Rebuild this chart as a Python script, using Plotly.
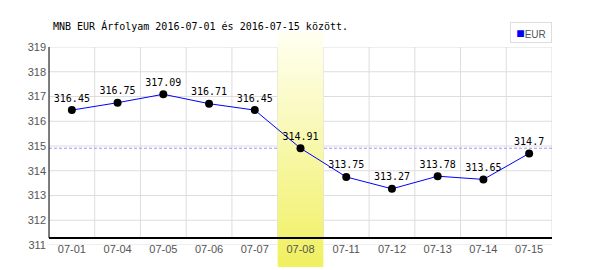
import plotly.graph_objects as go

dates = ['07-01', '07-04', '07-05', '07-06', '07-07', '07-08',
         '07-11', '07-12', '07-13', '07-14', '07-15']
values = [316.45, 316.75, 317.09, 316.71, 316.45, 314.91,
          313.75, 313.27, 313.78, 313.65, 314.7]
y_ticks = [311, 312, 313, 314, 315, 316, 317, 318, 319]
highlight = 5
title = 'MNB EUR Árfolyam 2016-07-01 és 2016-07-15 között.'
series_name = 'EUR'

W, H = 600, 270
L, R, T, B = 49, 48, 47, 25
plot_h = H - T - B
n = len(dates)
xs = list(range(n))

mono = 'DejaVu Sans Mono'
sans = 'Liberation Sans'

fig = go.Figure()

shapes = []
grid_col = '#dddddd'
axis_bottom = 7 / plot_h  # black axis line sits 7px above the 311 line
# horizontal grid lines
for v in y_ticks:
    shapes.append(dict(type='line', xref='paper', yref='y', x0=0, x1=1, y0=v, y1=v,
                       line=dict(color=grid_col, width=1), layer='below'))
# vertical grid lines at category boundaries
for i in range(n + 1):
    shapes.append(dict(type='line', xref='x', yref='paper', x0=i - 0.5, x1=i - 0.5,
                       y0=axis_bottom, y1=1, line=dict(color=grid_col, width=1), layer='below'))
# reference dashed line at highlighted value
shapes.append(dict(type='line', xref='paper', yref='y', x0=0, x1=1,
                   y0=values[highlight], y1=values[highlight],
                   line=dict(color='#9999ff', width=1, dash='3px,2px'), layer='below'))
# highlight band with vertical gradient
top_px, bot_px = 33, 267
strips = 47
c_top = (255, 255, 242)
c_bot = (240, 240, 96)
for k in range(strips):
    f = (k + 0.5) / strips
    col = tuple(round(c_top[j] + (c_bot[j] - c_top[j]) * f) for j in range(3))
    y_hi = top_px + (bot_px - top_px) * k / strips
    y_lo = top_px + (bot_px - top_px) * (k + 1) / strips
    shapes.append(dict(type='rect', xref='x', yref='paper',
                       x0=highlight - 0.5, x1=highlight + 0.5,
                       y0=(H - B - y_lo) / plot_h, y1=(H - B - y_hi) / plot_h + 0.002,
                       fillcolor='rgb(%d,%d,%d)' % col, line=dict(width=0), layer='below'))
# black axis lines
shapes.append(dict(type='line', xref='paper', yref='paper', x0=0, x1=1,
                   y0=axis_bottom, y1=axis_bottom, line=dict(color='black', width=2), layer='below'))
shapes.append(dict(type='line', xref='paper', yref='paper', x0=0, x1=0,
                   y0=axis_bottom, y1=1, line=dict(color='black', width=1), layer='below'))

fig.add_trace(go.Scatter(
    x=xs, y=values, mode='lines+markers+text', name=series_name,
    line=dict(color='#0000ff', width=1),
    marker=dict(color='black', size=8),
    text=[('%g' % v) for v in values], textposition='top center',
    textfont=dict(family=mono, size=10, color='black'),
    showlegend=False, cliponaxis=False,
))

# legend box (blue square + series name)
legend_note = dict(
    text='<span style="color:#0000ff;font-size:14px">■</span>' + series_name,
    xref='paper', yref='paper', x=1, xanchor='right',
    y=(H - B - 32) / plot_h, yanchor='middle',
    showarrow=False, width=38, height=17, borderpad=1,
    bordercolor='#dddddd', borderwidth=1, bgcolor='white', align='center',
    font=dict(family=sans, size=10, color='#555555'),
)

fig.update_layout(
    width=W, height=H,
    margin=dict(l=L, r=R, t=T, b=B, pad=0),
    paper_bgcolor='white', plot_bgcolor='white',
    shapes=shapes,
    annotations=[legend_note],
    title=dict(text=title, x=(53 - L) / (W - L - R), xref='paper', xanchor='left',
               y=1 - 26 / H, yref='container', yanchor='middle',
               font=dict(family=mono, size=10, color='black')),
    xaxis=dict(range=[-0.5, n - 0.5], tickvals=xs, ticktext=dates, showgrid=False,
               zeroline=False, showline=False, ticks='', ticklabelstandoff=-4,
               tickfont=dict(family=sans, size=11, color='#555555'), fixedrange=True),
    yaxis=dict(range=[y_ticks[0], y_ticks[-1]], tickvals=y_ticks, showgrid=False,
               zeroline=False, showline=False, ticks='', ticklabelstandoff=2,
               tickfont=dict(family=sans, size=11, color='#555555'), fixedrange=True),
    showlegend=False,
)

fig.write_html('out.html')
